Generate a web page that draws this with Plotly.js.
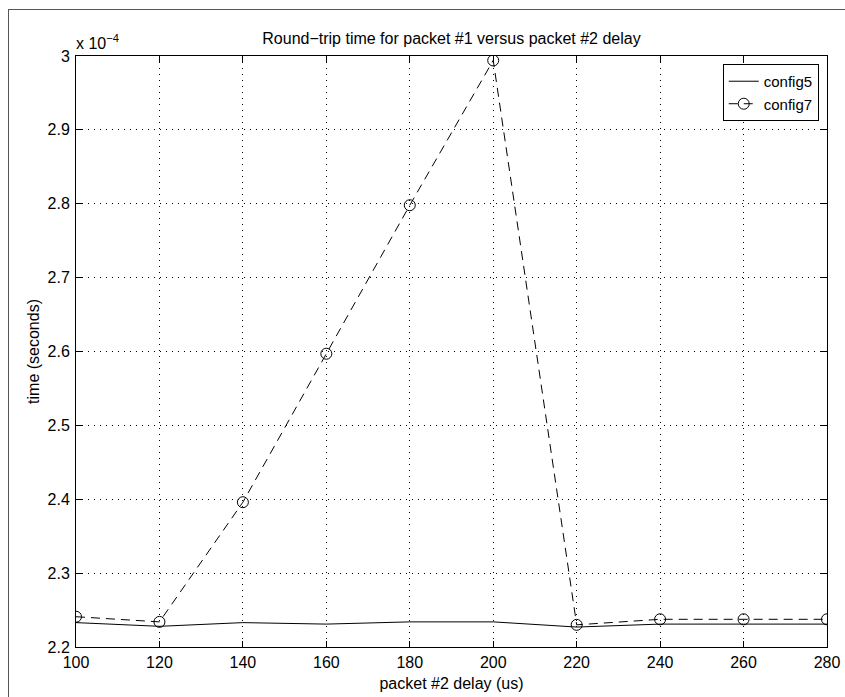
<!DOCTYPE html>
<html>
<head>
<meta charset="utf-8">
<script src="https://cdn.plot.ly/plotly-3.0.1.min.js"></script>
<style>
  html, body { margin: 0; padding: 0; background: #fff; overflow: hidden; }
  #frame { position: absolute; left: 8px; top: 9px; width: 900px; height: 800px;
           border-left: 1px solid #555; border-top: 1px solid #555; }
  #chart { position: absolute; left: 0; top: 0; width: 845px; height: 697px; }
</style>
</head>
<body>
<div id="frame"></div>
<div id="chart"></div>
<script>
// packet #2 delay (us)
const delays = [100, 120, 140, 160, 180, 200, 220, 240, 260, 280];
// round-trip time, in units of 1e-4 seconds
const config5 = [2.233, 2.228, 2.233, 2.231, 2.234, 2.234, 2.227, 2.231, 2.231, 2.231];
const config7 = [2.241, 2.234, 2.396, 2.597, 2.798, 2.994, 2.230, 2.2375, 2.2375, 2.2375];
const xTicks = [100, 120, 140, 160, 180, 200, 220, 240, 260, 280];
const yTicks = [2.2, 2.3, 2.4, 2.5, 2.6, 2.7, 2.8, 2.9, 3];
const yTickText = ['2.2', '2.3', '2.4', '2.5', '2.6', '2.7', '2.8', '2.9', '3'];

const FONT = 'Liberation Sans, Arial, Helvetica, sans-serif';

const traces = [
  {
    x: delays, y: config5, name: 'config5', type: 'scatter', mode: 'lines',
    line: { color: '#000', width: 1 }
  },
  {
    x: delays, y: config7, name: 'config7', type: 'scatter', mode: 'lines+markers',
    line: { color: '#000', width: 1, dash: '9px,6px' },
    marker: { symbol: 'circle-open', size: 11, color: '#000', line: { width: 1, color: '#000' } }
  }
];

const axisCommon = {
  showline: true, linecolor: '#000', linewidth: 1, mirror: 'allticks',
  ticks: 'inside', ticklen: 6, tickcolor: '#000', tickwidth: 1,
  showgrid: true, gridcolor: '#000', gridwidth: 1, griddash: '1px,5px',
  zeroline: false, tickfont: { family: FONT, size: 16, color: '#000' }
};

const layout = {
  width: 845, height: 697,
  paper_bgcolor: 'rgba(0,0,0,0)', plot_bgcolor: '#fff',
  margin: { l: 76, r: 18, t: 56, b: 50 },
  font: { family: FONT, color: '#000' },
  showlegend: true,
  title: {
    text: 'Round\u2212trip time for packet #1 versus packet #2 delay',
    font: { family: FONT, size: 16, color: '#000' },
    x: 0.5, xref: 'paper', xanchor: 'center', y: 1, yref: 'paper', yanchor: 'bottom',
    pad: { b: 12 }
  },
  xaxis: Object.assign({}, axisCommon, {
    range: [100, 280], tickmode: 'array', tickvals: xTicks,
    ticklabelstandoff: 1,
    title: { text: 'packet #2 delay (us)', font: { family: FONT, size: 16, color: '#000' }, standoff: 7 }
  }),
  yaxis: Object.assign({}, axisCommon, {
    range: [2.2, 3], tickmode: 'array', tickvals: yTicks, ticktext: yTickText,
    ticklabelstandoff: 2,
    title: { text: 'time (seconds)', font: { family: FONT, size: 16, color: '#000' }, standoff: 3 }
  }),
  legend: {
    x: 0.989, y: 0.9865, xanchor: 'right', yanchor: 'top',
    bgcolor: '#fff', bordercolor: '#000', borderwidth: 1,
    font: { family: FONT, size: 15, color: '#000' },
    tracegroupgap: 0, itemwidth: 30
  },
  annotations: [
    {
      xref: 'paper', yref: 'paper', x: 0, y: 1, xanchor: 'left', yanchor: 'bottom',
      xshift: -2, yshift: 2, showarrow: false,
      text: 'x 10<sup>\u22124</sup>', font: { family: FONT, size: 16, color: '#000' }
    }
  ]
};

Plotly.newPlot('chart', traces, layout, { displayModeBar: false, staticPlot: true });
</script>
</body>
</html>
